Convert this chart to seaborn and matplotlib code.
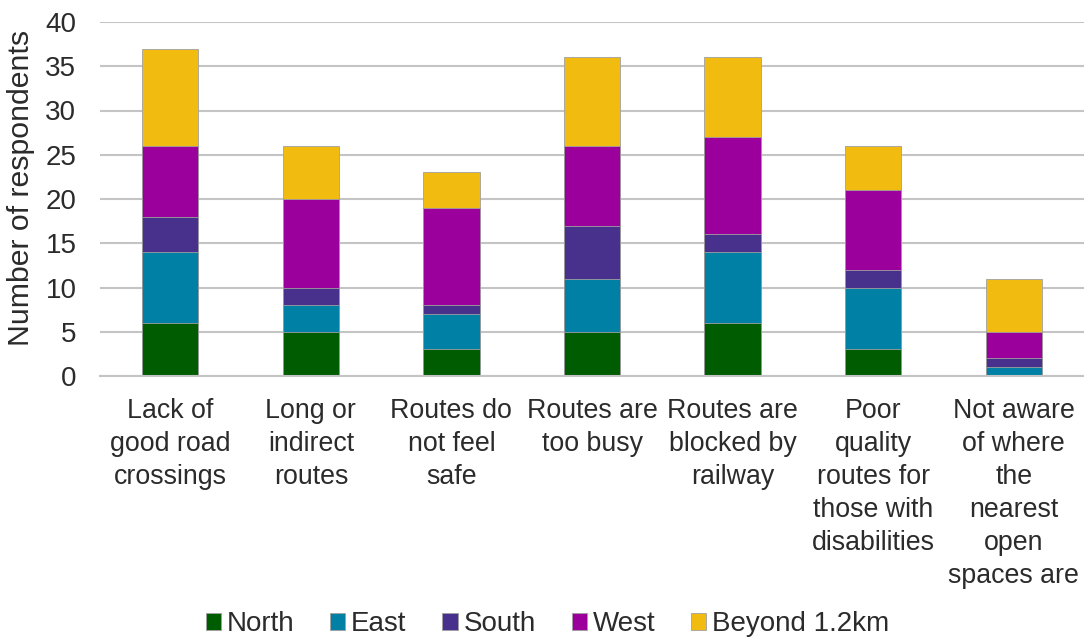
import matplotlib
matplotlib.use("Agg")
import matplotlib.pyplot as plt
from matplotlib.patches import Patch
import seaborn as sns
import pandas as pd
import numpy as np

categories = [
    "Lack of\ngood road\ncrossings",
    "Long or\nindirect\nroutes",
    "Routes do\nnot feel\nsafe",
    "Routes are\ntoo busy",
    "Routes are\nblocked by\nrailway",
    "Poor\nquality\nroutes for\nthose with\ndisabilities",
    "Not aware\nof where\nthe\nnearest\nopen\nspaces are",
]
series = ["North", "East", "South", "West", "Beyond 1.2km"]
north = [6, 5, 3, 5, 6, 3, 0]
east = [8, 3, 4, 6, 8, 7, 1]
south = [4, 2, 1, 6, 2, 2, 1]
west = [8, 10, 11, 9, 11, 9, 3]
beyond = [11, 6, 4, 10, 9, 5, 6]
colors = ["#005c00", "#0080a4", "#47318c", "#9c009c", "#f2bb10"]
yticks = [0, 5, 10, 15, 20, 25, 30, 35, 40]

sns.set_theme(style="white")
plt.rcParams["font.family"] = ["Liberation Sans", "DejaVu Sans"]
text_color = "#2b2b2b"
fs = 20

values = np.array([north, east, south, west, beyond], dtype=float)
cum = np.cumsum(values, axis=0)

fig = plt.figure(figsize=(10.84, 6.41), dpi=100)
ax = fig.add_axes([100 / 1084, 265 / 641, 984 / 1084, 354 / 641])

for i in range(len(series) - 1, -1, -1):
    df = pd.DataFrame({"category": categories, "value": cum[i]})
    sns.barplot(data=df, x="category", y="value", color=colors[i], ax=ax,
                width=0.4, edgecolor="#a0a0a0", linewidth=0.6, saturation=1,
                order=categories)

ax.set_ylim(0, 40)
ax.set_xlim(-0.5, len(categories) - 0.5)
ax.set_yticks(yticks)
ax.yaxis.grid(True, color="#c4c4c4", linewidth=1.5)
ax.set_axisbelow(True)
for s in ["top", "right", "left"]:
    ax.spines[s].set_visible(False)
ax.spines["bottom"].set_color("#c4c4c4")
ax.spines["bottom"].set_linewidth(1.5)
ax.tick_params(axis="y", length=0, labelsize=fs, colors=text_color, pad=17)
ax.tick_params(axis="x", length=0, labelsize=19.3, colors=text_color, pad=16)
ax.set_xlabel("")
ax.set_ylabel("Number of respondents", fontsize=21.8, color=text_color)
ax.yaxis.set_label_coords(-0.066, 0.531)
for lbl in ax.get_xticklabels():
    lbl.set_linespacing(1.35)
    lbl.set_va("top")

handles = [Patch(facecolor=c, edgecolor="#a0a0a0", linewidth=0.6, label=s)
           for c, s in zip(colors, series)]
fig.legend(handles=handles, loc="center", bbox_to_anchor=(0.505, 0.026),
           ncol=5, frameon=False, fontsize=fs, handlelength=0.55,
           handleheight=0.55, handletextpad=0.2, columnspacing=1.3,
           labelcolor=text_color)

fig.savefig("out.png", dpi=100)
